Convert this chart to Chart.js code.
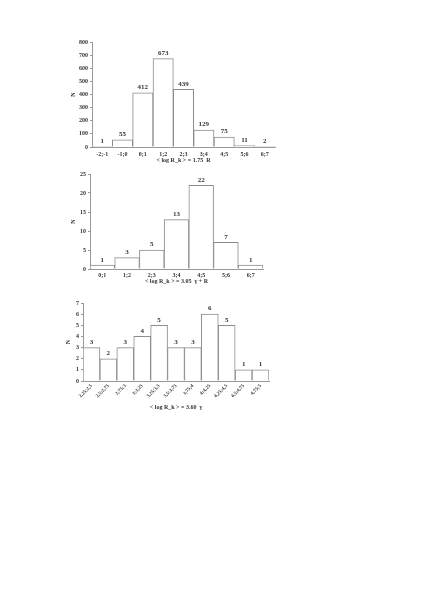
<!DOCTYPE html>
<html>
<head>
<meta charset="utf-8">
<script src="https://cdn.jsdelivr.net/npm/chart.js@4.4.1/dist/chart.umd.min.js"></script>
<style>
  body { margin: 0; background: #fff; width: 436px; height: 616px; position: relative; }
  .box { position: absolute; }
</style>
</head>
<body>
<div class="box" style="left:70px; top:30px; width:220px; height:134px;"><canvas id="g1"></canvas></div>
<div class="box" style="left:70px; top:165px; width:220px; height:120px;"><canvas id="g2"></canvas></div>
<div class="box" style="left:65px; top:295px; width:220px; height:116px;"><canvas id="g3"></canvas></div>
<script>
// dados dos três histogramas
const classes1 = ['-2;-1', '-1;0', '0;1', '1;2', '2;3', '3;4', '4;5', '5;6', '6;7'];
const contagem1 = [1, 55, 412, 673, 439, 129, 75, 11, 2];
const titulo1 = '< log R_k > = 1.75  R';

const classes2 = ['0;1', '1;2', '2;3', '3;4', '4;5', '5;6', '6;7'];
const contagem2 = [1, 3, 5, 13, 22, 7, 1];
const titulo2 = '< log R_k > = 3.05  \u03B3 + R';

const classes3 = ['2,25;2,5', '2,5;2,75', '2,75;3', '3;3,25', '3,25;3,5', '3,5;3,75',
                  '3,75;4', '4;4,25', '4,25;4,5', '4,5;4,75', '4,75;5'];
const contagem3 = [3, 2, 3, 4, 5, 3, 3, 6, 5, 1, 1];
const titulo3 = '< log R_k > = 3.60  \u03B3';

const FONTE = 'Liberation Serif';
const COR_TEXTO = '#333';

// escreve o valor acima de cada barra
const rotulosBarras = {
    id: 'rotulosBarras',
    afterDatasetsDraw(chart) {
        const ctx = chart.ctx;
        const meta = chart.getDatasetMeta(0);
        ctx.save();
        ctx.font = 'bold 7px "' + FONTE + '"';
        ctx.fillStyle = COR_TEXTO;
        ctx.textAlign = 'center';
        ctx.textBaseline = 'bottom';
        meta.data.forEach((bar, i) => {
            ctx.fillText(chart.data.datasets[0].data[i], bar.x, bar.y - 2);
        });
        ctx.restore();
    }
};

function criarHistograma(id, classes, valores, titulo, cfg) {
    const ctx = document.getElementById(id).getContext('2d');
    return new Chart(ctx, {
        type: 'bar',
        data: {
            labels: classes,
            datasets: [{
                data: valores,
                backgroundColor: '#ffffff',
                borderColor: '#8c8c8c',
                borderWidth: 1,
                categoryPercentage: 1,
                barPercentage: 1
            }]
        },
        options: {
            responsive: true,
            maintainAspectRatio: false,
            animation: false,
            layout: { padding: { top: cfg.top, right: cfg.right, left: 0, bottom: 0 } },
            plugins: { legend: { display: false }, tooltip: { enabled: false } },
            scales: {
                x: {
                    grid: { display: false, drawTicks: false },
                    border: { color: '#999', width: 1 },
                    ticks: {
                        color: COR_TEXTO,
                        font: { family: FONTE, size: cfg.fonteX, weight: 'bold' },
                        padding: cfg.padX,
                        autoSkip: false,
                        minRotation: cfg.rot,
                        maxRotation: cfg.rot
                    },
                    title: {
                        display: true,
                        text: titulo,
                        color: COR_TEXTO,
                        font: { family: FONTE, size: 6, weight: 'bold' },
                        padding: { top: 1, bottom: 0 }
                    },
                    afterFit(scale) { scale.height = cfg.xAltura; }
                },
                y: {
                    min: 0,
                    max: cfg.max,
                    grid: { drawOnChartArea: false, drawTicks: true, tickLength: 2, color: '#999' },
                    border: { color: '#999', width: 1 },
                    ticks: {
                        stepSize: cfg.passo,
                        color: COR_TEXTO,
                        font: { family: FONTE, size: 6, weight: 'bold' },
                        padding: 2
                    },
                    title: {
                        display: true,
                        text: 'N',
                        color: COR_TEXTO,
                        font: { family: FONTE, size: 6, weight: 'bold' },
                        padding: 0
                    },
                    afterFit(scale) { scale.width = cfg.yLargura; }
                }
            }
        },
        plugins: [rotulosBarras]
    });
}

criarHistograma('g1', classes1, contagem1, titulo1,
    { max: 800, passo: 100, top: 12, right: 15, rot: 0, xAltura: 17, yLargura: 22, fonteX: 6, padX: 4 });
criarHistograma('g2', classes2, contagem2, titulo2,
    { max: 25, passo: 5, top: 9, right: 27, rot: 0, xAltura: 16, yLargura: 20, fonteX: 6, padX: 3 });
criarHistograma('g3', classes3, contagem3, titulo3,
    { max: 7, passo: 1, top: 8, right: 16, rot: 45, xAltura: 30, yLargura: 18, fonteX: 5, padX: 2 });
</script>
</body>
</html>
